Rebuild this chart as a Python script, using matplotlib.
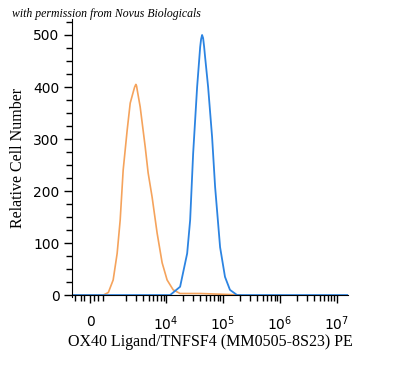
import numpy as np
import matplotlib.pyplot as plt
from matplotlib.ticker import FixedLocator, NullFormatter

# isotype control (orange) - fluorescence value, relative cell number
iso_x = [-950, 690, 957, 1175, 1380, 1560, 1760, 2070, 2340, 2640, 2800, 2940, 3030, 3100, 3500,
         4290, 4830, 5680, 6950, 8510, 10400, 13300, 17600, 39600, 132000, 200000]
iso_y = [0, 0, 5, 29, 80, 144, 240, 317, 369, 390, 400, 405, 402, 395, 362,
         285, 235, 188, 119, 62, 29, 10, 3, 3, 1, 0]

# OX40 Ligand stained (blue)
stain_x = [-950, 11750, 17600, 23400, 26400, 29800, 35000, 39600, 41100, 42800, 44600, 46400, 48300,
           54600, 64100, 72400, 88600, 108000, 132000, 176000, 1.6e7]
stain_y = [0, 0, 16, 80, 144, 272, 400, 477, 492, 500, 494, 478, 458,
           400, 304, 208, 92, 35, 10, 0, 0]

major_ticks = [0, 1e4, 1e5, 1e6, 1e7]
major_labels = ['0', r'$10^4$', r'$10^5$', r'$10^6$', r'$10^7$']

fig = plt.figure(figsize=(4, 3.78), dpi=100)
ax = fig.add_axes([0.18, 0.2153, 0.69, 0.7334])

ax.plot(iso_x, iso_y, color='#F5A35C', lw=1.2)
ax.plot(stain_x, stain_y, color='#2C84E2', lw=1.3)

ax.set_xscale('symlog', linthresh=1000, linscale=0.3)
ax.set_xlim(-958, 1.56e7)
ax.set_ylim(-3, 530)

ax.xaxis.set_major_locator(FixedLocator(major_ticks))
ax.set_xticklabels(major_labels, family='Liberation Sans', fontsize=9.5)
minor = [-800, -500, -300, 200, 400, 700]
for d in [1e3, 1e4, 1e5, 1e6]:
    minor += [m * d for m in range(2, 10)]
ax.xaxis.set_minor_locator(FixedLocator(minor))
ax.xaxis.set_minor_formatter(NullFormatter())

ax.set_yticks([0, 100, 200, 300, 400, 500])
ax.set_yticks(np.arange(0, 526, 25), minor=True)
for lab in ax.get_yticklabels():
    lab.set_family('Liberation Sans')
    lab.set_fontsize(9.5)

ax.tick_params(axis='both', which='major', length=6, width=1, direction='out', pad=3)
ax.tick_params(axis='both', which='minor', length=4, width=1, direction='out')
ax.tick_params(axis='x', which='major', pad=8)

ax.spines['top'].set_visible(False)
ax.spines['right'].set_visible(False)
ax.spines['left'].set_position(('data', -958))
ax.spines['bottom'].set_position(('data', 0))

ax.set_xlabel('OX40 Ligand/TNFSF4 (MM0505-8S23) PE', family='Liberation Serif', fontsize=11.5, labelpad=1)
ax.set_ylabel('Relative Cell Number', family='Liberation Serif', fontsize=11.5, labelpad=5)

fig.text(0.03, 0.955, 'with permission from Novus Biologicals', family='Liberation Serif',
         style='italic', fontsize=8.5)

fig.savefig('out.png', dpi=100)
